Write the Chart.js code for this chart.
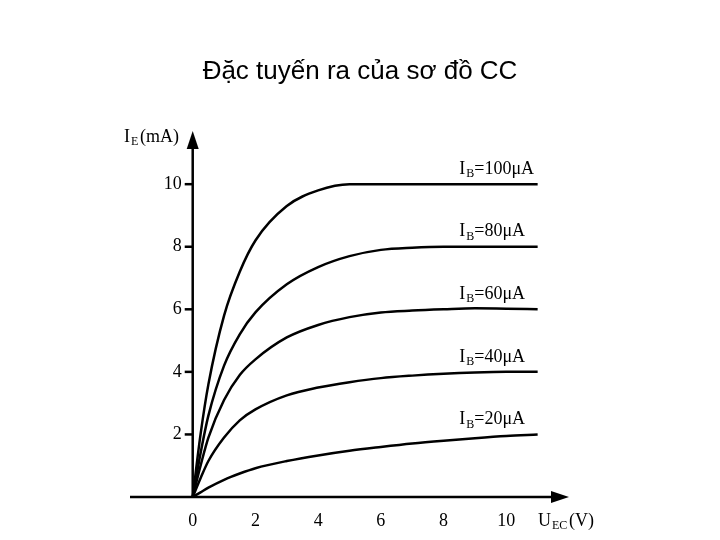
<!DOCTYPE html>
<html><head><meta charset="utf-8">
<script src="https://cdn.jsdelivr.net/npm/chart.js@4"></script>
<style>html,body{margin:0;background:#fff}#w{width:720px;height:540px}</style>
</head><body><div id="w"><canvas id="c"></canvas></div>
<script>
const titleText = "Đặc tuyến ra của sơ đồ CC";
const uec = [0, 0.25, 0.5, 1, 1.5, 2, 3, 4, 5, 6, 7, 8, 9, 10, 11];
const ib100 = [0, 2.0, 3.6, 5.8, 7.2, 8.2, 9.3, 9.8, 10, 10, 10, 10, 10, 10, 10];
const ib80  = [0, 1.4, 2.6, 4.2, 5.2, 5.9, 6.8, 7.35, 7.7, 7.9, 7.97, 8, 8, 8, 8];
const ib60  = [0, 1.0, 1.9, 3.1, 3.9, 4.4, 5.1, 5.5, 5.75, 5.9, 5.96, 6, 6.03, 6.02, 6];
const ib40  = [0, 0.6, 1.15, 1.9, 2.45, 2.8, 3.25, 3.5, 3.67, 3.8, 3.88, 3.94, 3.98, 4, 4];
const ib20  = [0, 0.15, 0.3, 0.55, 0.75, 0.92, 1.15, 1.33, 1.48, 1.6, 1.71, 1.8, 1.88, 1.95, 2];
const seriesLabels = ["100", "80", "60", "40", "20"];
const xTicks = [0, 2, 4, 6, 8, 10];
const yTicks = [2, 4, 6, 8, 10];
const all = [ib100, ib80, ib60, ib40, ib20];

const serif = '"Liberation Serif", "DejaVu Serif", serif';
const deco = {
  id: 'deco',
  afterDraw(ch) {
    const c = ch.ctx, xs = ch.scales.x, ys = ch.scales.y;
    const x0 = xs.getPixelForValue(0), y0 = ys.getPixelForValue(0);
    c.save();
    c.fillStyle = '#000'; c.strokeStyle = '#000';
    c.font = '26px "Liberation Sans", Arial, sans-serif';
    c.textAlign = 'center'; c.textBaseline = 'middle';
    c.fillText(titleText, 360, 72);
    c.lineWidth = 2.5;
    c.beginPath();
    c.moveTo(xs.left, y0); c.lineTo(xs.right - 10, y0);
    c.moveTo(x0, y0); c.lineTo(x0, ys.top + 10);
    c.stroke();
    c.beginPath();
    c.moveTo(xs.right, y0); c.lineTo(xs.right - 18, y0 - 6); c.lineTo(xs.right - 18, y0 + 6); c.closePath(); c.fill();
    c.beginPath();
    c.moveTo(x0, ys.top); c.lineTo(x0 - 6, ys.top + 18); c.lineTo(x0 + 6, ys.top + 18); c.closePath(); c.fill();
    c.font = '18px ' + serif;
    c.textAlign = 'right';
    yTicks.forEach(v => {
      const y = ys.getPixelForValue(v);
      c.beginPath(); c.moveTo(x0 - 8, y); c.lineTo(x0, y); c.stroke();
      c.fillText(String(v), x0 - 11, y);
    });
    c.textAlign = 'center';
    xTicks.forEach(v => c.fillText(String(v), xs.getPixelForValue(v), y0 + 24));
    c.textAlign = 'left';
    c.fillText('I', 124, 137);
    c.font = '12px ' + serif; c.fillText('E', 131, 142);
    c.font = '18px ' + serif; c.fillText('(mA)', 140, 137);
    c.fillText('U', 538, 521);
    c.font = '12px ' + serif; c.fillText('EC', 552, 526);
    c.font = '18px ' + serif; c.fillText('(V)', 569, 521);
    all.forEach((d, i) => {
      const x = xs.getPixelForValue(8.5), y = ys.getPixelForValue(d[d.length - 1]) - 15;
      c.font = '18px ' + serif; c.fillText('I', x, y);
      c.font = '12px ' + serif; c.fillText('B', x + 7, y + 5);
      c.font = '18px ' + serif; c.fillText('=' + seriesLabels[i] + 'μA', x + 15, y);
    });
    c.restore();
  }
};

new Chart(document.getElementById('c'), {
  type: 'line',
  data: {
    labels: uec,
    datasets: all.map((d, i) => ({
      label: seriesLabels[i],
      data: d.map((v, j) => ({x: uec[j], y: v})),
      borderColor: '#000', borderWidth: 2.5, pointRadius: 0,
      cubicInterpolationMode: 'monotone', fill: false
    }))
  },
  options: {
    responsive: true, maintainAspectRatio: false, animation: false,
    layout: {padding: {left: 130, right: 151, top: 131, bottom: 43}},
    plugins: {legend: {display: false}, title: {display: false}, tooltip: {enabled: false}},
    scales: {
      x: {type: 'linear', min: -2, max: 12, display: false},
      y: {type: 'linear', min: 0, max: 11.7, display: false}
    }
  },
  plugins: [deco]
});
</script></body></html>
